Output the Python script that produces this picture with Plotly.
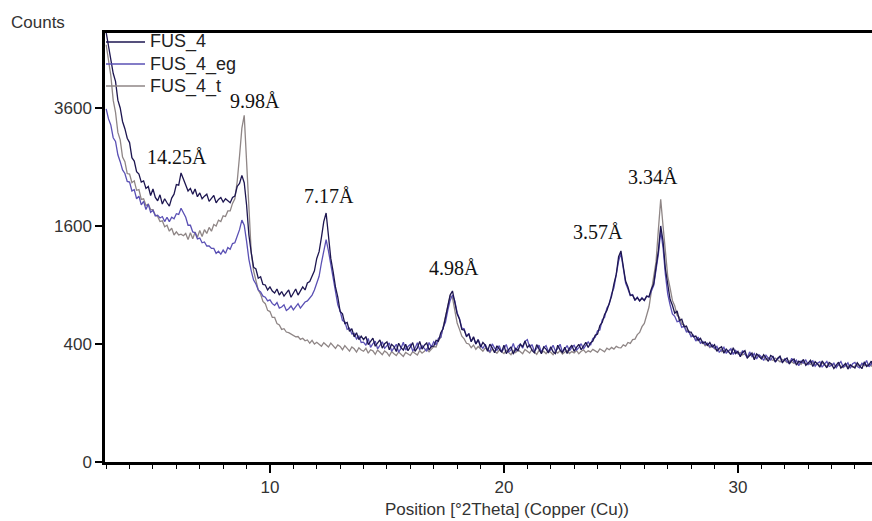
import math
import numpy as np
import plotly.graph_objects as go

# Scan grid: 2theta from 3.0 deg in 0.1 deg steps (one row of ten values per degree)
SCAN_START = 3.0
SCAN_STEP = 0.1

fus_4 = [
    5300, 4980, 4720, 4340, 4160, 3760, 3600, 3330, 3190, 3010,
    2930, 2660, 2600, 2420, 2380, 2250, 2270, 2150, 2180, 2040,
    2140, 2010, 1960, 2050, 1910, 1990, 1930, 1880, 2000, 2060,
    2210, 2200, 2400, 2300, 2220, 2110, 2150, 2060, 2140, 2020,
    2080, 1990, 2030, 2060, 1950, 1990, 2040, 1930, 1980, 2010,
    1940, 1990, 1960, 1930, 2010, 2030, 2180, 2230, 2360, 2240,
    1900, 1480, 1260, 1090, 1070, 970, 985, 905, 900, 850,
    880, 840, 820, 860, 800, 835, 790, 815, 850, 780,
    820, 860, 800, 845, 880, 850, 920, 935, 1000, 1050,
    1190, 1270, 1450, 1660, 1780, 1500, 1190, 1040, 880, 780,
    650, 630, 550, 560, 490, 510, 450, 480, 430, 455,
    430, 452, 396, 418, 441, 385, 410, 428, 372, 402,
    415, 362, 398, 383, 351, 405, 376, 360, 398, 356,
    380, 409, 352, 374, 418, 366, 392, 407, 361, 384,
    385, 425, 420, 480, 510, 600, 670, 800, 840, 740,
    630, 585, 505, 500, 455, 470, 415, 450, 400, 430,
    378, 411, 392, 352, 399, 374, 343, 388, 368, 346,
    392, 337, 362, 381, 334, 371, 355, 398, 382, 421,
    376, 394, 357, 342, 396, 368, 337, 380, 366, 341,
    381, 349, 337, 392, 360, 344, 378, 338, 371, 392,
    352, 377, 398, 362, 385, 411, 376, 408, 420, 461,
    470, 535, 560, 625, 660, 735, 790, 910, 1010, 1210,
    1280, 1100, 940, 880, 800, 800, 755, 775, 745, 770,
    750, 790, 785, 860, 910, 1090, 1280, 1600, 1400, 1070,
    910, 760, 705, 635, 655, 575, 585, 525, 530, 485,
    485, 450, 455, 425, 440, 405, 415, 390, 410, 380,
    395, 352, 372, 381, 340, 366, 349, 331, 375, 338,
    352, 318, 344, 356, 310, 329, 341, 300, 336, 322,
    305, 331, 312, 291, 326, 317, 288, 309, 322, 284,
    300, 311, 276, 296, 305, 270, 292, 284, 302, 268,
    281, 297, 262, 289, 276, 258, 293, 270, 255, 284,
    276, 251, 268, 286, 253, 264, 279, 248, 272, 262,
    254, 283, 266, 250, 288, 262, 271, 292, 258, 276,
]

fus_4_eg = [
    3580, 3380, 3260, 3020, 2950, 2710, 2590, 2450, 2390, 2260,
    2250, 2110, 2130, 1990, 2030, 1900, 1950, 1830, 1910, 1790,
    1820, 1740, 1750, 1710, 1730, 1660, 1720, 1660, 1720, 1700,
    1770, 1760, 1850, 1790, 1720, 1610, 1610, 1520, 1510, 1430,
    1440, 1380, 1390, 1340, 1340, 1310, 1310, 1250, 1275, 1240,
    1290, 1250, 1320, 1300, 1370, 1380, 1460, 1550, 1680, 1610,
    1400, 1180, 1050, 950, 910, 850, 830, 790, 780, 745,
    755, 720, 705, 730, 680, 690, 710, 660, 675, 700,
    665, 690, 720, 680, 705, 735, 745, 770, 800, 850,
    930, 990, 1140, 1290, 1420, 1280, 1130, 950, 840, 710,
    655, 575, 565, 505, 515, 470, 475, 435, 455, 410,
    412, 391, 438, 377, 402, 420, 368, 396, 415, 371,
    388, 407, 352, 379, 398, 346, 371, 412, 360, 383,
    397, 355, 372, 408, 362, 389, 371, 352, 410, 379,
    415, 395, 440, 445, 520, 560, 660, 750, 800, 745,
    640, 590, 515, 510, 450, 475, 420, 445, 400, 430,
    392, 371, 398, 364, 350, 401, 373, 358, 389, 347,
    371, 396, 348, 361, 404, 352, 386, 398, 372, 418,
    430, 377, 396, 352, 371, 392, 346, 375, 389, 351,
    362, 391, 354, 370, 398, 347, 366, 389, 355, 378,
    391, 360, 376, 402, 368, 389, 414, 392, 438, 447,
    495, 500, 580, 600, 680, 715, 810, 870, 1010, 1160,
    1250, 1070, 920, 860, 795, 805, 750, 780, 745, 775,
    750, 790, 780, 840, 895, 1060, 1240, 1530, 1320, 1010,
    810, 710, 630, 610, 565, 570, 520, 530, 485, 490,
    450, 462, 420, 448, 405, 418, 395, 405, 382, 395,
    372, 384, 346, 360, 378, 341, 355, 369, 332, 358,
    340, 325, 357, 334, 312, 348, 320, 338, 305, 330,
    318, 296, 327, 310, 299, 322, 287, 305, 316, 283,
    306, 290, 279, 309, 285, 298, 266, 293, 281, 299,
    272, 285, 294, 263, 280, 289, 258, 276, 290, 262,
    268, 281, 255, 274, 290, 259, 266, 283, 252, 277,
    285, 262, 255, 280, 271, 296, 260, 278, 268, 290,
]

fus_4_t = [
    5000, 4620, 4280, 3760, 3510, 3120, 2980, 2670, 2590, 2390,
    2380, 2240, 2270, 2120, 2130, 1980, 1990, 1890, 1910, 1830,
    1830, 1750, 1730, 1660, 1670, 1590, 1610, 1530, 1570, 1480,
    1520, 1480, 1490, 1470, 1500, 1420, 1510, 1430, 1520, 1450,
    1540, 1460, 1550, 1500, 1580, 1530, 1620, 1600, 1680, 1660,
    1740, 1730, 1810, 1810, 1920, 1990, 2260, 2690, 3200, 3450,
    2600, 1700, 1260, 1050, 940, 850, 810, 740, 720, 660,
    650, 600, 600, 550, 540, 505, 510, 485, 480, 470,
    465, 450, 452, 432, 440, 422, 428, 405, 425, 400,
    412, 398, 385, 409, 395, 380, 406, 386, 371, 394,
    384, 362, 389, 371, 353, 380, 368, 347, 375, 360,
    352, 371, 340, 362, 355, 333, 360, 346, 331, 354,
    343, 322, 350, 336, 325, 348, 331, 320, 345, 335,
    326, 350, 338, 329, 357, 340, 352, 368, 349, 366,
    382, 380, 425, 445, 520, 590, 705, 790, 775, 645,
    555, 505, 455, 435, 405, 400, 375, 393, 365, 383,
    368, 352, 374, 360, 345, 366, 355, 340, 360, 351,
    338, 359, 347, 331, 356, 344, 362, 349, 337, 364,
    352, 341, 365, 347, 333, 358, 343, 352, 337, 356,
    346, 330, 352, 341, 356, 335, 349, 358, 338, 350,
    342, 357, 336, 352, 361, 343, 355, 348, 364, 352,
    345, 368, 357, 349, 372, 362, 377, 366, 384, 376,
    374, 394, 386, 410, 404, 430, 434, 466, 482, 526,
    552, 616, 690, 836, 990, 1150, 1550, 1980, 1600, 1250,
    990, 870, 750, 700, 620, 600, 545, 540, 495, 492,
    455, 456, 426, 432, 405, 412, 388, 398, 376, 386,
    368, 360, 372, 350, 358, 346, 354, 362, 340, 348,
    336, 344, 329, 338, 318, 331, 324, 312, 327, 318,
    309, 318, 300, 312, 304, 296, 310, 298, 288, 302,
    296, 284, 293, 288, 279, 291, 281, 274, 289, 277,
    282, 273, 286, 270, 278, 266, 281, 272, 263, 276,
    268, 274, 260, 271, 265, 256, 270, 262, 268, 259,
    264, 271, 262, 276, 266, 270, 274, 264, 279, 270,
]

series_names = ["FUS_4", "FUS_4_eg", "FUS_4_t"]
series_colors = ["#1d1650", "#5a50b4", "#8f8686"]
series_counts = [fus_4, fus_4_eg, fus_4_t]

# d-spacings of the labelled reflections (Angstrom), Cu K-alpha
d_spacings = [14.25, 9.98, 7.17, 4.98, 3.57, 3.34]
label_xshift = [-4, 12, 4, 2, -21, -7]
label_yshift = [16, 14, 17, 23, 19, 22]
CU_KALPHA = 1.5406

y_tick_counts = [0, 400, 1600, 3600]
x_tick_vals = [10, 20, 30]

n = len(fus_4)
two_theta = np.round(SCAN_START + SCAN_STEP * np.arange(n), 2)

fig = go.Figure()
# draw back to front: FUS_4_t, FUS_4_eg, FUS_4
for name, color, counts in reversed(list(zip(series_names, series_colors, series_counts))):
    fig.add_trace(go.Scatter(
        x=two_theta, y=np.sqrt(np.array(counts, dtype=float)),
        mode="lines", name=name,
        line=dict(color=color, width=1.3),
        showlegend=False,
    ))

# peak labels above the reflections
all_counts = np.array(series_counts, dtype=float)
for d, dx, dy in zip(d_spacings, label_xshift, label_yshift):
    pos = 2 * math.degrees(math.asin(CU_KALPHA / (2 * d)))
    win = np.abs(two_theta - pos) <= 0.25
    top = np.sqrt(all_counts[:, win].max())
    fig.add_annotation(
        x=pos, y=top, xref="x", yref="y", text=f"{d:.2f}Å",
        showarrow=False, xanchor="center", yanchor="middle",
        xshift=dx, yshift=dy,
        font=dict(family="Liberation Serif, Times New Roman, serif", size=20, color="#111"),
    )

# legend: short line sample followed by the series name
PLOT_W, PLOT_H = 767.0, 429.0
legend_rows_px = [42, 64, 86]
for name, color, row in zip(series_names, series_colors, legend_rows_px):
    yp = (462 - row) / PLOT_H
    fig.add_shape(type="line", xref="paper", yref="paper",
                  x0=1 / PLOT_W, x1=40 / PLOT_W, y0=yp, y1=yp,
                  line=dict(color=color, width=1.5))
    fig.add_annotation(x=43 / PLOT_W, y=yp, xref="paper", yref="paper",
                       text=name, showarrow=False, xanchor="left", yanchor="middle",
                       font=dict(size=18, color="#222"))

fig.add_annotation(x=-96 / PLOT_W, y=(462 - 22) / PLOT_H, xref="paper", yref="paper",
                   text="Counts", showarrow=False, xanchor="left", yanchor="middle",
                   font=dict(size=17, color="#333"))
fig.add_annotation(x=(507 - 105) / PLOT_W, y=(462 - 509) / PLOT_H, xref="paper", yref="paper",
                   text="Position [°2Theta] (Copper (Cu))", showarrow=False,
                   xanchor="center", yanchor="middle",
                   font=dict(size=17, color="#333"))

fig.update_layout(
    width=872, height=521,
    margin=dict(l=105, r=0, t=33, b=59),
    paper_bgcolor="white", plot_bgcolor="white",
    showlegend=False,
    font=dict(family="Liberation Sans, Arial, sans-serif", size=18, color="#222"),
)
fig.update_xaxes(
    range=[2.95, 35.73], tickvals=x_tick_vals, ticktext=[str(v) for v in x_tick_vals],
    ticks="outside", ticklen=8, tickwidth=1.5, tickcolor="black",
    showline=True, linecolor="black", linewidth=2.5, mirror=True,
    showgrid=False, zeroline=False,
    minor=dict(dtick=1, tick0=0, ticks="outside", ticklen=4, tickwidth=1, tickcolor="black"),
    tickfont=dict(size=17, color="#333"),
)
fig.update_yaxes(
    range=[0, 72.7], tickvals=np.sqrt(y_tick_counts), ticktext=[str(v) for v in y_tick_counts],
    ticks="outside", ticklen=7, tickwidth=1.5, tickcolor="black",
    showline=True, linecolor="black", linewidth=2.5,
    showgrid=False, zeroline=False,
    tickfont=dict(size=17, color="#333"),
)

fig.write_html("out.html")
